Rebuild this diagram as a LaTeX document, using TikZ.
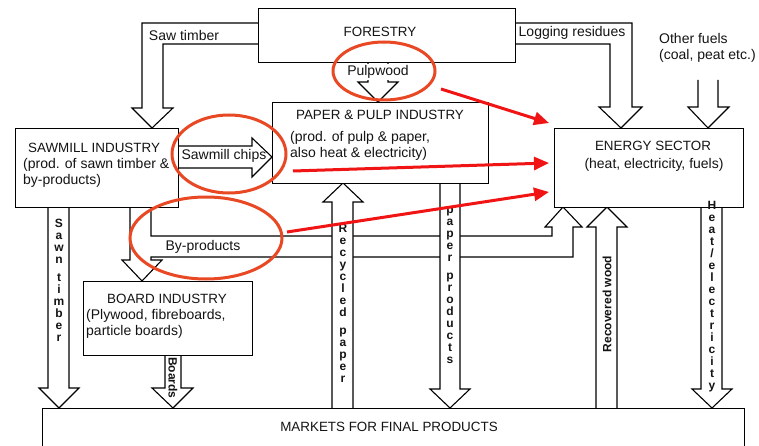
\documentclass[tikz,border=0pt]{standalone}
\usepackage{fontspec}
\setmainfont{Liberation Sans}
\usetikzlibrary{arrows.meta}
\definecolor{ink}{RGB}{20,20,20}
\definecolor{redarrow}{RGB}{240,20,20}
\definecolor{redring}{RGB}{232,72,36}
\begin{document}
\begin{tikzpicture}[x=1pt,y=-1pt,
  box/.style={draw=black, line width=1.1pt, fill=white, rectangle, inner sep=0pt, anchor=north west},
  fat/.style={draw=black, line width=1.1pt, fill=white, line join=miter},
  title/.style={font=\fontsize{13.4}{15}\selectfont, text=ink, inner sep=0pt},
  body/.style={font=\fontsize{14}{16.5}\selectfont, text=ink, inner sep=0pt, align=left},
  lbl/.style={font=\fontsize{14}{16}\selectfont, text=ink, inner sep=0pt},
  stack/.style={font=\bfseries\fontsize{12}{12}\selectfont, text=ink, inner sep=0pt, align=center},
  rot/.style={font=\bfseries\fontsize{12}{14}\selectfont, text=ink, inner sep=0pt},
  redarr/.style={draw=redarrow, line width=3pt, -{Triangle[length=15pt,width=13pt]}},
  ring/.style={draw=redring, line width=3pt}
]
\clip (0,0) rectangle (759,446);
\fill[white] (0,0) rectangle (759,446);

% ---- fat flow arrows ----
% by-products (split: down to board industry, right and up to energy)
\filldraw[fat] (130,207) -- (130,260) -- (122,260) -- (142,281) -- (162,260) -- (151,260) -- (151,257)
  -- (573,257) -- (573,227) -- (582,227) -- (563,207) -- (545,227) -- (552,227) -- (552,236)
  -- (151,236) -- (151,207);
% saw timber
\filldraw[fat] (258,23) -- (142,23) -- (142,108) -- (132,108) -- (152,128) -- (173,108) -- (163,108) -- (163,44) -- (258,44);
% logging residues
\filldraw[fat] (515,23) -- (632,23) -- (632,107) -- (642,107) -- (621,128) -- (599,107) -- (610,107) -- (610,44) -- (515,44);
% other fuels
\filldraw[fat] (698,80) -- (698,107) -- (688,107) -- (708,128) -- (729,107) -- (718,107) -- (718,80);
% pulpwood
\filldraw[fat] (368,62) -- (368,82) -- (358,82) -- (378,102) -- (398,82) -- (388,82) -- (388,62);
% sawmill chips
\filldraw[fat] (178,146) -- (252,146) -- (252,138) -- (272,157) -- (252,177) -- (252,168) -- (178,168);
% sawn timber
\filldraw[fat] (48,207) -- (48,388) -- (39,388) -- (59,408) -- (79,388) -- (69,388) -- (69,207);
% boards
\filldraw[fat] (165,355) -- (165,388) -- (152,388) -- (173,408) -- (193,388) -- (181,388) -- (181,355);
% recycled paper (up)
\filldraw[fat] (332,408) -- (332,202) -- (323,202) -- (343,183) -- (363,202) -- (353,202) -- (353,408);
% paper products (down)
\filldraw[fat] (440,183) -- (440,389) -- (430,389) -- (450,408) -- (470,389) -- (460,389) -- (460,183);
% recovered wood (up)
\filldraw[fat] (596,408) -- (596,227) -- (587,227) -- (607,207) -- (627,227) -- (617,227) -- (617,408);
% heat / electricity (down)
\filldraw[fat] (701,207) -- (701,389) -- (692,389) -- (712,408) -- (732,389) -- (722,389) -- (722,207);

% ---- boxes ----
\node[box, minimum width=257pt, minimum height=54pt] (forestry) at (258,8) {};
\node[box, minimum width=163pt, minimum height=79pt] (sawmill) at (15,128) {};
\node[box, minimum width=216pt, minimum height=81pt] (paper) at (272,102) {};
\node[box, minimum width=189pt, minimum height=79pt] (energy) at (554,128) {};
\node[box, minimum width=169pt, minimum height=74pt] (board) at (83,281) {};
\node[box, minimum width=702pt, minimum height=60pt] (markets) at (42,408) {};

% ---- box texts ----
\node[title] (forestryT) at (380,32) {FORESTRY};
\node[title, anchor=west] (sawmillT) at (28,148) {SAWMILL INDUSTRY};
\node[body, anchor=north west] (sawmillB) at (23,158) {(prod. of sawn timber \&\\by-products)};
\node[title] (paperT) at (380,115) {PAPER \& PULP INDUSTRY};
\node[body, anchor=north west] (paperB) at (290,131) {(prod. of pulp \& paper,\\also heat \& electricity)};
\node[title] (energyT) at (653,146) {ENERGY SECTOR};
\node[lbl] (energyB) at (654,165) {(heat, electricity, fuels)};
\node[title] (boardT) at (167,299) {BOARD INDUSTRY};
\node[body, anchor=north west] (boardB) at (86,309) {(Plywood, fibreboards,\\particle boards)};
\node[title] (marketsT) at (389,427) {MARKETS FOR FINAL PRODUCTS};

% ---- flow labels ----
\node[lbl] (sawT) at (184,35) {Saw timber};
\node[lbl] (logT) at (572,33) {Logging residues};
\node[body, anchor=west] (otherT) at (659,48) {Other fuels\\(coal, peat etc.)};
\node[lbl, fill=white, inner sep=1pt] (pulpT) at (378,72) {Pulpwood};
\node[lbl] (chipsT) at (224,156) {Sawmill chips};
\node[lbl] (byT) at (203,247) {By-products};
\node[stack] (sawnT) at (59,280) {S\\a\\w\\n\\[6pt]t\\i\\m\\b\\e\\r};
\node[stack] (recT) at (343,303) {R\\e\\c\\y\\c\\l\\e\\d\\[6pt]p\\a\\p\\e\\r};
\node[stack] (ppT) at (450,285) {p\\a\\p\\e\\r\\[6pt]p\\r\\o\\d\\u\\c\\t\\s};
\node[stack] (heT) at (712,297) {H\\e\\a\\t\\/\\e\\l\\e\\c\\t\\r\\i\\c\\i\\t\\y};
\node[rot, rotate=-90] (boardsT) at (173,378) {Boards};
\node[rot, rotate=90] (recwT) at (607,304) {Recovered wood};

% ---- red highlights ----
\draw[ring] (384,71) ellipse [x radius=51pt, y radius=29pt];
\draw[ring] (229,154) ellipse [x radius=57pt, y radius=39pt];
\draw[ring] (206,238) ellipse [x radius=76pt, y radius=41pt];
\coordinate (r1s) at (441,89);  \coordinate (r1e) at (549,123);
\coordinate (r2s) at (293,171); \coordinate (r2e) at (549,163);
\coordinate (r3s) at (287,232); \coordinate (r3e) at (549,192);
\draw[redarr] (r1s) -- (r1e);
\draw[redarr] (r2s) -- (r2e);
\draw[redarr] (r3s) -- (r3e);
\end{tikzpicture}
\end{document}
